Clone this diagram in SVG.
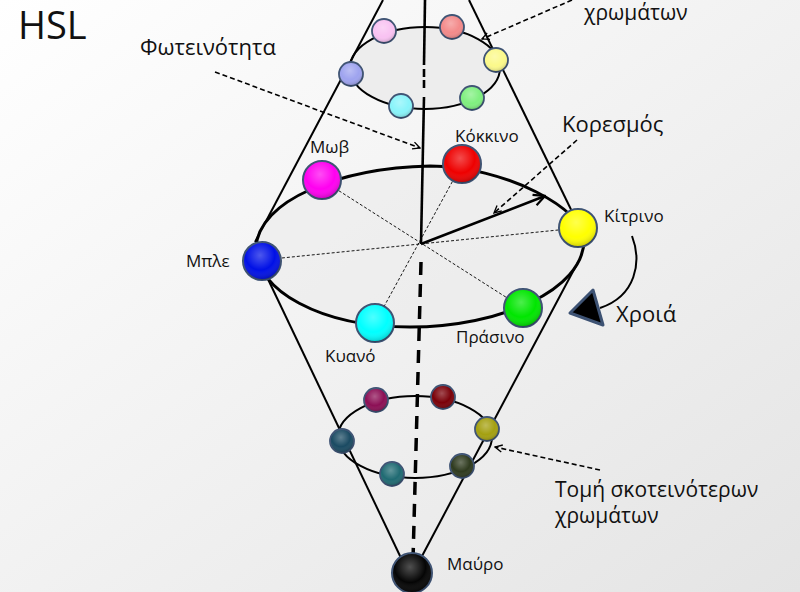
<svg xmlns="http://www.w3.org/2000/svg" width="800" height="592" viewBox="0 0 800 592">
<defs>
<linearGradient id="bg" x1="0" y1="0" x2="1" y2="1">
<stop offset="0" stop-color="#ffffff"/>
<stop offset="1" stop-color="#e4e4e4"/>
</linearGradient>
<radialGradient id="gloss" cx="0.45" cy="0.35" r="0.65">
<stop offset="0" stop-color="#ffffff" stop-opacity="0.3"/>
<stop offset="0.6" stop-color="#ffffff" stop-opacity="0"/>
<stop offset="1" stop-color="#000000" stop-opacity="0.22"/>
</radialGradient>
<marker id="ah" viewBox="0 0 10 10" refX="9" refY="5" markerWidth="9" markerHeight="9" markerUnits="userSpaceOnUse" orient="auto">
<path d="M1,1 L9,5 L1,9" fill="none" stroke="#000" stroke-width="1.5"/>
</marker>
<marker id="ah2" viewBox="0 0 10 10" refX="9" refY="5" markerWidth="14" markerHeight="14" markerUnits="userSpaceOnUse" orient="auto">
<path d="M1,1 L9,5 L1,9" fill="none" stroke="#000" stroke-width="1.6"/>
</marker>
<style>
text{font-family:"Open Sans","Liberation Sans",sans-serif;fill:#111}
.lbl{font-size:17px}
.big{font-size:22px}
.mid{font-size:21px}
.ln{stroke:#000;stroke-width:2;fill:none}
.ax{stroke:#000;stroke-width:2.6;fill:none}
.dash{stroke:#000;stroke-width:1.6;fill:none;stroke-dasharray:5 3}
.rad{stroke:#000;stroke-width:0.9;fill:none;stroke-dasharray:3 2}
.node circle.b{stroke:#3d5273;stroke-width:2}
.node circle.s{stroke:#3d5273;stroke-width:1.8}
</style>
</defs>
<rect width="800" height="592" fill="url(#bg)"/>

<g id="connectors">
<!-- top ellipse -->
<ellipse cx="425" cy="68" rx="75" ry="41" fill="#ededed" stroke="#000" stroke-width="2"/>
<!-- cone outline -->
<line class="ln" x1="383" y1="0" x2="255" y2="242"/>
<line class="ln" x1="469" y1="0" x2="580" y2="228"/>
<line class="ln" x1="266" y1="275" x2="401" y2="558"/>
<line class="ln" x1="578" y1="262" x2="421" y2="558"/>
<!-- big ellipse -->
<path d="M256,248 C258,200 340,168 430,166 C505,166 586,210 584,240 C584,290 500,327 410,327 C320,327 256,290 256,248 Z" fill="#ebebeb" fill-opacity="0.6" stroke="#000" stroke-width="3"/>
<!-- bottom ellipse -->
<ellipse cx="415" cy="437" rx="77" ry="41" fill="none" stroke="#000" stroke-width="2"/>
<!-- axis -->
<line class="ax" x1="425" y1="0" x2="424" y2="65"/>
<line class="ax" x1="424" y1="69" x2="424" y2="77"/>
<line class="ax" x1="424" y1="80" x2="424" y2="88"/>
<line class="ax" x1="424" y1="97" x2="421" y2="244"/>
<line x1="421" y1="262" x2="413" y2="560" stroke="#000" stroke-width="3.5" stroke-dasharray="13 9"/>
<!-- radial dashed lines -->
<line class="rad" x1="322" y1="180" x2="523" y2="308"/>
<line class="rad" x1="462" y1="164" x2="375" y2="323"/>
<line class="rad" x1="262" y1="260" x2="578" y2="228"/>
<!-- saturation arrow -->
<line x1="421" y1="244" x2="545" y2="196" stroke="#000" stroke-width="2.6" marker-end="url(#ah2)"/>
<!-- leaders -->
<line class="dash" x1="577" y1="140" x2="494" y2="213" marker-end="url(#ah)"/>
<line class="dash" x1="215" y1="72" x2="420" y2="148" marker-end="url(#ah)"/>
<line class="dash" x1="572" y1="0" x2="482" y2="39" marker-end="url(#ah)"/>
<line class="dash" x1="600" y1="470" x2="495" y2="447" marker-end="url(#ah)"/>
<!-- hue arrow -->
<path d="M632,236 C642,262 636,296 600,308" class="ln" stroke-width="2.4"/>
<polygon points="570,313 593,290 603,325" fill="#000" stroke="#3d5273" stroke-width="3" stroke-linejoin="round"/>
</g>

<!-- top section nodes -->
<g id="n-top-pink" class="node"><circle class="s" cx="384" cy="31" r="12" fill="#f9c2f2"/><circle cx="384" cy="31" r="12" fill="url(#gloss)"/></g>
<g id="n-top-salmon" class="node"><circle class="s" cx="452" cy="27" r="12" fill="#f38a8a"/><circle cx="452" cy="27" r="12" fill="url(#gloss)"/></g>
<g id="n-top-yellow" class="node"><circle class="s" cx="496" cy="60" r="12" fill="#fbf98a"/><circle cx="496" cy="60" r="12" fill="url(#gloss)"/></g>
<g id="n-top-green" class="node"><circle class="s" cx="472" cy="98" r="12" fill="#7fef7f"/><circle cx="472" cy="98" r="12" fill="url(#gloss)"/></g>
<g id="n-top-cyan" class="node"><circle class="s" cx="401" cy="106" r="12" fill="#88f4fa"/><circle cx="401" cy="106" r="12" fill="url(#gloss)"/></g>
<g id="n-top-blue" class="node"><circle class="s" cx="351" cy="74" r="12" fill="#9ea3ef"/><circle cx="351" cy="74" r="12" fill="url(#gloss)"/></g>

<!-- main nodes -->
<g id="n-red" class="node"><circle class="b" cx="462" cy="164" r="19" fill="#ee0000"/><circle cx="462" cy="164" r="19" fill="url(#gloss)"/><text class="lbl" x="455" y="142">Κόκκινο</text></g>
<g id="n-magenta" class="node"><circle class="b" cx="322" cy="180" r="19" fill="#ff00f0"/><circle cx="322" cy="180" r="19" fill="url(#gloss)"/><text class="lbl" x="310" y="153">Μωβ</text></g>
<g id="n-blue" class="node"><circle class="b" cx="262" cy="261" r="19" fill="#0010e6"/><circle cx="262" cy="261" r="19" fill="url(#gloss)"/><text class="lbl" x="186" y="267">Μπλε</text></g>
<g id="n-yellow" class="node"><circle class="b" cx="578" cy="228" r="19" fill="#ffff00"/><circle cx="578" cy="228" r="19" fill="url(#gloss)"/><text class="lbl" x="604" y="222">Κίτρινο</text></g>
<g id="n-green" class="node"><circle class="b" cx="523" cy="308" r="19" fill="#00e600"/><circle cx="523" cy="308" r="19" fill="url(#gloss)"/><text class="lbl" x="456" y="343">Πράσινο</text></g>
<g id="n-cyan" class="node"><circle class="b" cx="375" cy="323" r="19" fill="#00ffff"/><circle cx="375" cy="323" r="19" fill="url(#gloss)"/><text class="lbl" x="325" y="362">Κυανό</text></g>
<g id="n-black" class="node"><circle class="b" cx="412" cy="573" r="20" fill="#050505"/><circle cx="412" cy="573" r="20" fill="url(#gloss)"/><text class="lbl" x="447" y="570">Μαύρο</text></g>

<!-- bottom section nodes -->
<g id="n-bot-purple" class="node"><circle class="s" cx="376" cy="400" r="12" fill="#8c0f55"/><circle cx="376" cy="400" r="12" fill="url(#gloss)"/></g>
<g id="n-bot-darkred" class="node"><circle class="s" cx="443" cy="397" r="12" fill="#7a0008"/><circle cx="443" cy="397" r="12" fill="url(#gloss)"/></g>
<g id="n-bot-olive" class="node"><circle class="s" cx="487" cy="429" r="12" fill="#a4a010"/><circle cx="487" cy="429" r="12" fill="url(#gloss)"/></g>
<g id="n-bot-darkgreen" class="node"><circle class="s" cx="462" cy="466" r="12" fill="#2e3a1e"/><circle cx="462" cy="466" r="12" fill="url(#gloss)"/></g>
<g id="n-bot-teal" class="node"><circle class="s" cx="392" cy="474" r="12" fill="#1f6a72"/><circle cx="392" cy="474" r="12" fill="url(#gloss)"/></g>
<g id="n-bot-darkteal" class="node"><circle class="s" cx="342" cy="441" r="12" fill="#1a4a62"/><circle cx="342" cy="441" r="12" fill="url(#gloss)"/></g>

<!-- labels -->
<g id="labels">
<text x="18" y="39" style="font-size:38px">HSL</text>
<text class="big" x="140" y="55">Φωτεινότητα</text>
<text class="big" x="562" y="132">Κορεσμός</text>
<text class="big" x="616" y="322">Χροιά</text>
<text class="mid" x="584" y="20">χρωμάτων</text>
<text class="mid" x="555" y="497">Τομή σκοτεινότερων</text>
<text class="mid" x="555" y="523">χρωμάτων</text>
</g>
</svg>
